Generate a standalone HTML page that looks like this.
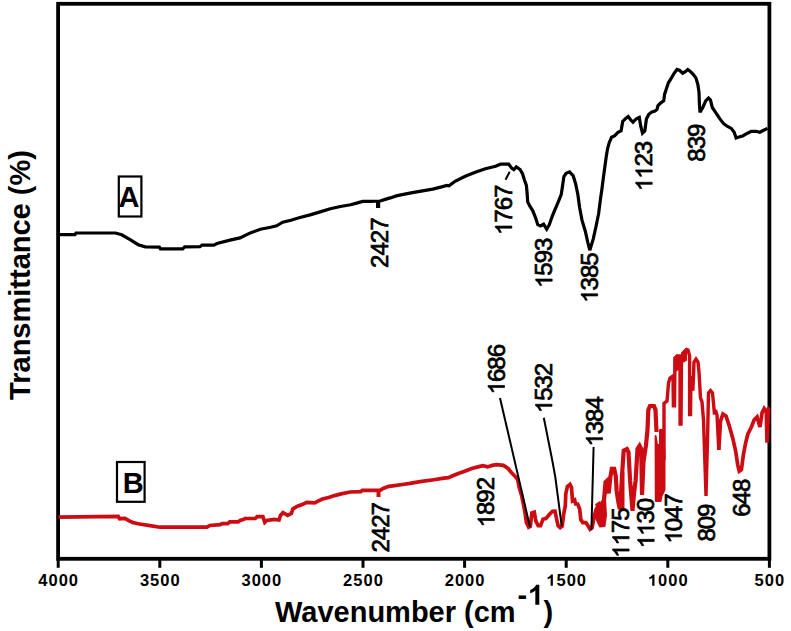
<!DOCTYPE html>
<html><head><meta charset="utf-8"><style>
html,body{margin:0;padding:0;background:#fff;}
svg{display:block;}
.lab{font-family:"Liberation Sans",sans-serif;font-size:24px;fill:#000;letter-spacing:-1.0px;stroke:#000;stroke-width:0.7px;}
.labp{fill:#000;stroke:#000;stroke-width:60px;}
.tl{font-family:"Liberation Sans",sans-serif;font-size:16.5px;font-weight:bold;fill:#000;letter-spacing:1px;}
.tlp{fill:#000;}
.big{font-family:"Liberation Sans",sans-serif;font-size:29px;font-weight:bold;fill:#000;}
.bigp{fill:#000;}
</style></head><body>
<svg width="791" height="631" viewBox="0 0 791 631">
<rect width="791" height="631" fill="#fff"/>
<g stroke="#000" stroke-width="3" fill="none"><line x1="58.2" y1="559" x2="58.2" y2="567.8" /><line x1="159.8" y1="559" x2="159.8" y2="567.8" /><line x1="261.4" y1="559" x2="261.4" y2="567.8" /><line x1="363.0" y1="559" x2="363.0" y2="567.8" /><line x1="464.6" y1="559" x2="464.6" y2="567.8" /><line x1="566.2" y1="559" x2="566.2" y2="567.8" /><line x1="667.8" y1="559" x2="667.8" y2="567.8" /><line x1="769.4" y1="559" x2="769.4" y2="567.8" /></g>
<rect x="58.1" y="3.8" width="711.3" height="555" fill="none" stroke="#000" stroke-width="3.8"/>
<polyline points="58.5,234.6 75.0,234.6 76.0,233.0 115.4,233.0 121.7,234.8 130.1,239.6 138.2,244.7 145.3,246.8 159.4,247.1 160.4,248.8 182.7,248.8 184.7,246.8 200.0,246.7 202.0,245.1 213.8,245.1 217.0,243.5 230.0,240.1 240.0,237.9 250.3,232.9 260.4,229.3 270.6,227.3 276.6,225.8 282.7,222.2 290.8,220.2 300.0,217.5 310.1,214.9 320.2,211.9 330.3,208.8 340.4,206.5 350.6,204.8 356.6,203.1 362.7,201.4 370.8,201.4 380.1,201.0 385.2,199.4 390.2,197.9 396.3,195.9 403.4,194.4 412.5,192.6 422.6,190.8 432.7,189.1 440.8,187.1 446.8,185.5 449.0,185.9 455.1,181.3 465.2,176.3 475.3,172.2 485.4,168.7 495.6,166.2 500.6,164.2 508.7,164.2 511.7,168.2 513.8,169.7 516.3,166.9 520.1,169.5 522.6,174.0 524.5,180.3 526.4,185.4 527.1,193.0 527.7,201.9 529.6,205.7 532.8,210.8 535.3,217.1 537.8,224.7 540.4,226.0 543.6,224.1 546.7,229.2 549.3,224.7 552.4,215.8 555.6,208.2 558.8,200.6 561.3,194.3 562.6,185.4 563.9,176.5 566.1,173.4 569.6,171.9 573.2,175.8 575.6,183.7 577.9,194.8 579.6,207.5 582.0,220.1 585.3,231.2 587.8,242.3 589.8,250.2 593.2,239.1 596.0,226.5 598.6,213.8 600.6,198.1 602.0,188.6 603.4,177.5 604.9,166.5 606.2,157.0 607.5,149.1 609.2,142.7 611.6,137.2 614.8,135.6 617.9,132.4 621.1,130.9 622.7,121.4 625.1,119.0 628.2,116.6 630.6,119.8 633.0,122.2 636.1,119.0 639.3,117.4 640.9,126.9 642.5,133.2 644.8,130.9 646.4,119.0 648.8,114.2 651.9,111.9 655.0,111.0 657.0,109.4 658.0,105.6 660.8,102.8 663.7,100.9 664.6,94.2 666.5,88.5 668.4,82.8 671.3,78.1 674.1,73.3 677.0,69.5 679.8,70.5 682.7,73.3 685.6,71.4 687.8,69.5 690.3,71.4 693.2,74.3 696.0,78.1 697.9,84.7 699.0,92.3 699.4,103.7 700.0,112.3 702.8,107.5 705.7,100.9 708.5,98.0 710.4,99.9 712.3,107.5 716.1,113.2 719.9,118.9 723.7,123.7 727.5,126.5 731.3,128.4 734.2,132.2 736.1,137.9 738.9,137.0 742.7,136.0 747.5,133.2 751.3,131.3 756.0,131.3 759.8,132.2 763.7,130.3 767.5,128.4" fill="none" stroke="#000" stroke-width="3.2" stroke-linejoin="miter" stroke-miterlimit="3"/>
<polyline points="58.5,517.1 118.2,516.4 119.7,518.7 125.0,518.3 128.8,520.6 132.6,522.5 139.5,524.0 151.6,525.8 160.0,527.2 206.9,527.2 209.8,525.5 220.2,524.7 222.1,523.6 227.8,523.6 229.7,521.9 238.2,521.9 240.1,520.4 243.9,519.4 244.9,518.5 255.3,518.5 257.2,516.6 262.9,516.6 264.8,522.3 266.7,520.4 274.3,519.4 279.0,520.0 280.5,515.5 283.0,512.6 287.6,515.3 291.4,513.4 292.9,508.8 297.5,506.2 302.8,504.3 306.6,502.4 314.9,502.8 317.9,501.2 322.5,499.0 328.6,497.5 334.6,495.6 341.0,493.9 350.2,492.0 360.8,491.6 362.3,490.3 374.5,490.3 380.5,490.1 383.6,488.2 388.9,486.3 394.6,485.6 402.5,484.5 410.0,483.4 420.0,481.7 432.0,480.0 444.0,478.1 448.5,477.6 452.7,475.7 459.0,473.3 465.4,470.9 471.7,468.5 478.0,466.9 482.8,465.7 487.5,466.9 492.3,465.4 496.3,464.6 503.4,465.4 508.1,468.5 511.3,472.5 514.5,475.7 517.7,479.6 519.2,487.5 521.6,495.5 523.2,503.4 524.8,511.3 526.4,522.4 528.7,527.2 530.3,526.4 531.9,512.9 534.3,512.1 535.8,520.8 538.2,525.6 540.6,525.6 543.0,519.2 546.1,518.4 549.3,514.5 552.5,511.3 555.0,511.2 556.5,518.5 558.1,525.7 560.2,527.7 562.2,526.2 563.8,513.3 565.3,506.1 565.8,493.7 567.4,486.5 570.0,484.4 571.5,487.5 572.5,500.9 574.6,499.9 575.6,504.0 577.7,504.0 579.7,509.2 580.8,519.5 582.8,522.6 585.9,522.6 588.0,525.7 590.1,529.3 592.1,527.7 594.2,516.4 596.2,509.2 598.3,506.1 600.4,508.1 602.4,522.6" fill="none" stroke="#cc0b12" stroke-width="3.7" stroke-linejoin="miter" stroke-miterlimit="3"/>
<g fill="#cc0b12" stroke="#cc0b12" stroke-width="2" stroke-linejoin="round"><polygon points="605.5,482.3 607.1,480.7 607.5,490.0 605.0,495.0"/><polygon points="655.6,436.0 657.0,445.0 660.0,445.0 660.0,430.0 663.0,430.0 664.5,456.0 664.5,489.7 661.5,496.0 660.5,501.0 655.8,501.0"/><polygon points="674.5,358.0 678.5,356.0 678.5,369.0 674.5,371.0"/><polygon points="682.0,353.0 686.0,350.0 686.0,360.0 682.0,362.0"/><polygon points="595.5,515.0 597.0,505.0 600.0,504.0 603.0,500.0 605.0,499.0 606.0,515.0 604.5,526.0 600.0,526.5 596.0,518.0"/><polygon points="619.5,508.0 621.5,474.0 623.5,473.0 623.5,510.0"/></g>
<polyline points="596.0,506.0 598.4,504.5 600.0,512.4 601.5,506.0 602.3,525.0 603.9,501.3 605.5,482.3 607.1,480.7 608.7,493.4 610.3,477.5 611.8,468.8 614.2,468.8 615.8,476.0 616.6,490.2 618.2,501.3 619.8,509.2 621.0,496.6 622.1,474.4 623.7,450.6 626.9,449.0 628.5,452.2 630.1,480.7 632.5,510.8 634.0,493.4 635.6,480.7 637.5,449.0 639.6,445.8 641.2,449.0 642.0,495.0 643.5,461.7 645.9,445.8 647.5,430.0 648.3,410.0 650.0,406.0 654.0,406.0 655.5,410.0 656.5,432.0" fill="none" stroke="#cc0b12" stroke-width="4.2" stroke-linejoin="miter" stroke-miterlimit="3"/>
<polyline points="664.0,460.0 664.0,403.4 667.0,401.0 667.5,395.5 668.5,383.0 670.0,378.0 673.0,376.0 673.4,405.8 674.5,405.8 675.0,358.0 677.0,356.0 680.0,356.0 680.1,424.0 681.0,424.0 681.5,357.0 684.0,352.0 686.5,349.5 688.0,350.0 689.6,356.0 689.6,414.5 690.5,414.5 691.0,376.0 692.8,390.7 693.5,376.0 694.0,362.0 696.0,359.0 698.0,362.0 699.0,372.0 700.5,398.0 702.0,402.0 703.5,420.0 706.0,496.0 707.5,440.0 708.5,393.0 710.5,390.7 712.5,393.0 713.5,403.4 714.5,414.5 715.5,410.0 717.0,415.0 718.8,450.0" fill="none" stroke="#cc0b12" stroke-width="3.4" stroke-linejoin="miter" stroke-miterlimit="3"/>
<polyline points="718.8,450.0 720.5,421.2 722.9,414.0 726.0,416.0 729.1,425.3 732.8,438.4 735.7,451.3 737.8,465.5 739.3,471.2 741.4,469.8 743.5,454.1 745.7,442.7 747.8,434.2 751.4,427.0 754.2,419.9 757.1,417.1 759.9,427.0 761.3,418.5 762.0,412.8 764.2,408.5 766.3,411.4 767.0,442.7 768.5,408.5 769.5,407.5" fill="none" stroke="#cc0b12" stroke-width="3.7" stroke-linejoin="miter" stroke-miterlimit="3"/>
<rect x="376" y="200" width="4.2" height="8" fill="#000"/>
<rect x="376.5" y="490" width="4" height="7" fill="#cc0b12"/>
<g stroke="#000" stroke-width="2" fill="none">
<line x1="509.7" y1="171.7" x2="505.5" y2="179.8"/>
<line x1="500" y1="398" x2="530" y2="527"/>
<polyline points="543.8,417.7 552.2,460 555.3,477 561.7,526"/>
<line x1="593.6" y1="447" x2="591.4" y2="530"/>
</g>
<rect x="118.8" y="176.5" width="22.6" height="40" fill="none" stroke="#000" stroke-width="2.2"/>
<rect x="117" y="462" width="27.6" height="39.8" fill="none" stroke="#000" stroke-width="2.2"/>
<text x="129" y="206.6" text-anchor="middle" class="big">A</text>
<text x="133.3" y="492.5" text-anchor="middle" class="big">B</text>
<g transform="translate(388.4,267.9) rotate(-90)"><text x="0" y="0" class="lab">2427</text></g><g transform="translate(511.8,235.0) rotate(-90)"><text x="0" y="0" class="lab"> 767</text><path d="M763,0 L583,0 L583,1098 Q518,1038 412,979 Q307,920 223,890 L223,1057 Q374,1125 487,1221 Q600,1318 647,1409 L763,1409 Z" transform="translate(0.00,0) scale(0.01172,-0.01172)" class="labp"/></g><g transform="translate(552.2,288.0) rotate(-90)"><text x="0" y="0" class="lab"> 593</text><path d="M763,0 L583,0 L583,1098 Q518,1038 412,979 Q307,920 223,890 L223,1057 Q374,1125 487,1221 Q600,1318 647,1409 L763,1409 Z" transform="translate(0.00,0) scale(0.01172,-0.01172)" class="labp"/></g><g transform="translate(597.7,302.8) rotate(-90)"><text x="0" y="0" class="lab"> 385</text><path d="M763,0 L583,0 L583,1098 Q518,1038 412,979 Q307,920 223,890 L223,1057 Q374,1125 487,1221 Q600,1318 647,1409 L763,1409 Z" transform="translate(0.00,0) scale(0.01172,-0.01172)" class="labp"/></g><g transform="translate(652.2,191.2) rotate(-90)"><text x="0" y="0" class="lab">  23</text><path d="M763,0 L583,0 L583,1098 Q518,1038 412,979 Q307,920 223,890 L223,1057 Q374,1125 487,1221 Q600,1318 647,1409 L763,1409 Z" transform="translate(0.00,0) scale(0.01172,-0.01172)" class="labp"/><path d="M763,0 L583,0 L583,1098 Q518,1038 412,979 Q307,920 223,890 L223,1057 Q374,1125 487,1221 Q600,1318 647,1409 L763,1409 Z" transform="translate(12.35,0) scale(0.01172,-0.01172)" class="labp"/></g><g transform="translate(704.6,161.7) rotate(-90)"><text x="0" y="0" class="lab">839</text></g><g transform="translate(389.2,552.5) rotate(-90)"><text x="0" y="0" class="lab">2427</text></g><g transform="translate(494.4,527.4) rotate(-90)"><text x="0" y="0" class="lab"> 892</text><path d="M763,0 L583,0 L583,1098 Q518,1038 412,979 Q307,920 223,890 L223,1057 Q374,1125 487,1221 Q600,1318 647,1409 L763,1409 Z" transform="translate(0.00,0) scale(0.01172,-0.01172)" class="labp"/></g><g transform="translate(504.5,394.4) rotate(-90)"><text x="0" y="0" class="lab"> 686</text><path d="M763,0 L583,0 L583,1098 Q518,1038 412,979 Q307,920 223,890 L223,1057 Q374,1125 487,1221 Q600,1318 647,1409 L763,1409 Z" transform="translate(0.00,0) scale(0.01172,-0.01172)" class="labp"/></g><g transform="translate(552.0,413.2) rotate(-90)"><text x="0" y="0" class="lab"> 532</text><path d="M763,0 L583,0 L583,1098 Q518,1038 412,979 Q307,920 223,890 L223,1057 Q374,1125 487,1221 Q600,1318 647,1409 L763,1409 Z" transform="translate(0.00,0) scale(0.01172,-0.01172)" class="labp"/></g><g transform="translate(602.6,446.6) rotate(-90)"><text x="0" y="0" class="lab"> 384</text><path d="M763,0 L583,0 L583,1098 Q518,1038 412,979 Q307,920 223,890 L223,1057 Q374,1125 487,1221 Q600,1318 647,1409 L763,1409 Z" transform="translate(0.00,0) scale(0.01172,-0.01172)" class="labp"/></g><g transform="translate(629.1,557.9) rotate(-90)"><text x="0" y="0" class="lab">  75</text><path d="M763,0 L583,0 L583,1098 Q518,1038 412,979 Q307,920 223,890 L223,1057 Q374,1125 487,1221 Q600,1318 647,1409 L763,1409 Z" transform="translate(0.00,0) scale(0.01172,-0.01172)" class="labp"/><path d="M763,0 L583,0 L583,1098 Q518,1038 412,979 Q307,920 223,890 L223,1057 Q374,1125 487,1221 Q600,1318 647,1409 L763,1409 Z" transform="translate(12.35,0) scale(0.01172,-0.01172)" class="labp"/></g><g transform="translate(654.2,548.3) rotate(-90)"><text x="0" y="0" class="lab">  30</text><path d="M763,0 L583,0 L583,1098 Q518,1038 412,979 Q307,920 223,890 L223,1057 Q374,1125 487,1221 Q600,1318 647,1409 L763,1409 Z" transform="translate(0.00,0) scale(0.01172,-0.01172)" class="labp"/><path d="M763,0 L583,0 L583,1098 Q518,1038 412,979 Q307,920 223,890 L223,1057 Q374,1125 487,1221 Q600,1318 647,1409 L763,1409 Z" transform="translate(12.35,0) scale(0.01172,-0.01172)" class="labp"/></g><g transform="translate(681.7,543.7) rotate(-90)"><text x="0" y="0" class="lab"> 047</text><path d="M763,0 L583,0 L583,1098 Q518,1038 412,979 Q307,920 223,890 L223,1057 Q374,1125 487,1221 Q600,1318 647,1409 L763,1409 Z" transform="translate(0.00,0) scale(0.01172,-0.01172)" class="labp"/></g><g transform="translate(715.1,541.6) rotate(-90)"><text x="0" y="0" class="lab">809</text></g><g transform="translate(750.0,516.8) rotate(-90)"><text x="0" y="0" class="lab">648</text></g>
<g transform="translate(38.3,585.8)"><text x="0" y="0" class="tl">4000</text></g><g transform="translate(139.9,585.8)"><text x="0" y="0" class="tl">3500</text></g><g transform="translate(241.5,585.8)"><text x="0" y="0" class="tl">3000</text></g><g transform="translate(343.1,585.8)"><text x="0" y="0" class="tl">2500</text></g><g transform="translate(444.7,585.8)"><text x="0" y="0" class="tl">2000</text></g><g transform="translate(546.3,585.8)"><text x="0" y="0" class="tl"> 500</text><path d="M815,0 L534,0 L534,1014 Q380,876 171,810 L171,1054 Q281,1088 410,1184 Q539,1280 587,1409 L815,1409 Z" transform="translate(0.00,0) scale(0.00806,-0.00806)" class="tlp"/></g><g transform="translate(647.9,585.8)"><text x="0" y="0" class="tl"> 000</text><path d="M815,0 L534,0 L534,1014 Q380,876 171,810 L171,1054 Q281,1088 410,1184 Q539,1280 587,1409 L815,1409 Z" transform="translate(0.00,0) scale(0.00806,-0.00806)" class="tlp"/></g><g transform="translate(754.6,585.8)"><text x="0" y="0" class="tl">500</text></g>
<text x="275" y="621.6" class="big">Wavenumber (cm</text>
<g transform="translate(517.5,604.8)"><text x="0" y="0" class="big">- </text><path d="M815,0 L534,0 L534,1014 Q380,876 171,810 L171,1054 Q281,1088 410,1184 Q539,1280 587,1409 L815,1409 Z" transform="translate(10.26,0) scale(0.01416,-0.01416)" class="bigp"/></g>
<text x="543.5" y="621.6" class="big">)</text>
<text x="0" y="0" transform="translate(29.8,275) rotate(-90)" text-anchor="middle" class="big">Transmittance (%)</text>
</svg>
</body></html>
